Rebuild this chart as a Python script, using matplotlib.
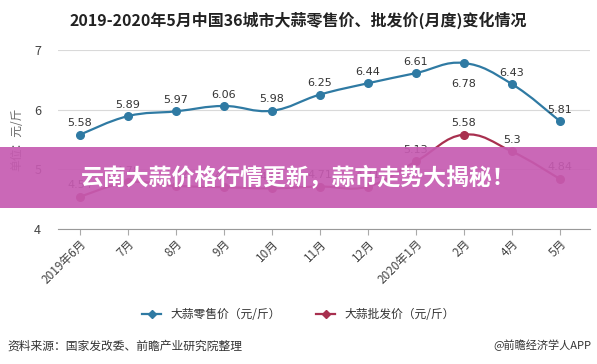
import numpy as np
import matplotlib
matplotlib.use('Agg')
import matplotlib.pyplot as plt
from matplotlib.path import Path
from matplotlib.patches import PathPatch, Rectangle
from matplotlib.lines import Line2D

plt.rcParams['font.family'] = ['Noto Sans CJK SC', 'DejaVu Sans']

months = ['2019年6月', '7月', '8月', '9月', '10月', '11月', '12月',
          '2020年1月', '2月', '4月', '5月']
retail = [5.58, 5.89, 5.97, 6.06, 5.98, 6.25, 6.44, 6.61, 6.78, 6.43, 5.81]
wholesale = [4.54, 4.78, 4.72, 4.70, 4.68, 4.71, 4.71, 5.13, 5.58, 5.3, 4.84]
yticks = [4, 5, 6, 7]

blue = '#2f7aa3'
red = '#a8304f'


def smooth_path(x, y, t=0.2):
    # cubic bezier through the points (catmull-rom style handles)
    pts = np.column_stack([x, y]).astype(float)
    verts = [pts[0]]
    codes = [Path.MOVETO]
    n = len(pts)
    for i in range(n - 1):
        p0 = pts[i - 1] if i > 0 else pts[i]
        p1 = pts[i]
        p2 = pts[i + 1]
        p3 = pts[i + 2] if i + 2 < n else pts[i + 1]
        c1 = p1 + (p2 - p0) * t
        c2 = p2 - (p3 - p1) * t
        verts += [c1, c2, p2]
        codes += [Path.CURVE4] * 3
    return Path(verts, codes)


fig = plt.figure(figsize=(5.97, 3.64), dpi=100)
ax = fig.add_axes([0.097, 0.371, 0.891, 0.492])

x = np.arange(len(months))
for vals, col in [(retail, blue), (wholesale, red)]:
    ax.add_patch(PathPatch(smooth_path(x, vals), fill=False, edgecolor=col, lw=1.6, zorder=3))
    ax.plot(x, vals, 'o', color=col, ms=5.5, zorder=4)

for i, v in enumerate(retail):
    dy = -17 if i == 8 else 6
    ax.annotate(f'{v:g}', (i, v), xytext=(0, dy), textcoords='offset points',
                ha='center', fontsize=8, color='#333333', family=['DejaVu Sans'])
for i, v in enumerate(wholesale):
    ax.annotate(f'{v:g}', (i, v), xytext=(0, 6), textcoords='offset points',
                ha='center', fontsize=8, color='#333333', family=['DejaVu Sans'])

ax.set_xlim(-0.46, 10.63)
ax.set_ylim(4, 7)
ax.set_yticks(yticks)
ax.set_yticklabels([str(t) for t in yticks], fontsize=9, color='#444444')
ax.set_xticks(x)
ax.set_xticklabels(months, rotation=45, ha='right', rotation_mode='anchor',
                   fontsize=8.5, color='#444444')
ax.tick_params(axis='y', length=0, pad=12)
ax.tick_params(axis='x', length=4, color='#aaaaaa', pad=2)
ax.grid(axis='y', color='#d9d9d9', lw=0.8)
for s in ['top', 'right', 'left']:
    ax.spines[s].set_visible(False)
ax.spines['bottom'].set_color('#999999')
ax.set_axisbelow(True)

ax.set_ylabel('单位：元/斤', fontsize=8.5, color='#666666', labelpad=8)

fig.text(0.5, 0.945, '2019-2020年5月中国36城市大蒜零售价、批发价(月度)变化情况',
         ha='center', va='center', fontsize=11.5, fontweight='bold', color='#222222')

handles = [Line2D([], [], color=blue, marker='D', ms=4, lw=1.6),
           Line2D([], [], color=red, marker='D', ms=4, lw=1.6)]
fig.legend(handles, ['大蒜零售价（元/斤）', '大蒜批发价（元/斤）'], loc='center',
           bbox_to_anchor=(0.5, 0.135), ncol=2, frameon=False, fontsize=8.5,
           handlelength=1.6, columnspacing=3, labelcolor='#333333')

fig.text(0.013, 0.05, '资料来源：国家发改委、前瞻产业研究院整理', fontsize=8.5,
         color='#333333', va='center')
fig.text(0.99, 0.05, '@前瞻经济学人APP', fontsize=8, color='#333333',
         va='center', ha='right')

# overlay banner
fig.patches.append(Rectangle((0, 1 - 208 / 364), 1, 61 / 364, transform=fig.transFigure,
                             facecolor='#c65bb1', edgecolor='none', alpha=0.92, zorder=10))
fig.text(0.5, 1 - 178 / 364, '云南大蒜价格行情更新，蒜市走势大揭秘！', ha='center',
         va='center', fontsize=16.5, fontweight='bold', color='white', zorder=11)

fig.savefig('out.png', dpi=100)
